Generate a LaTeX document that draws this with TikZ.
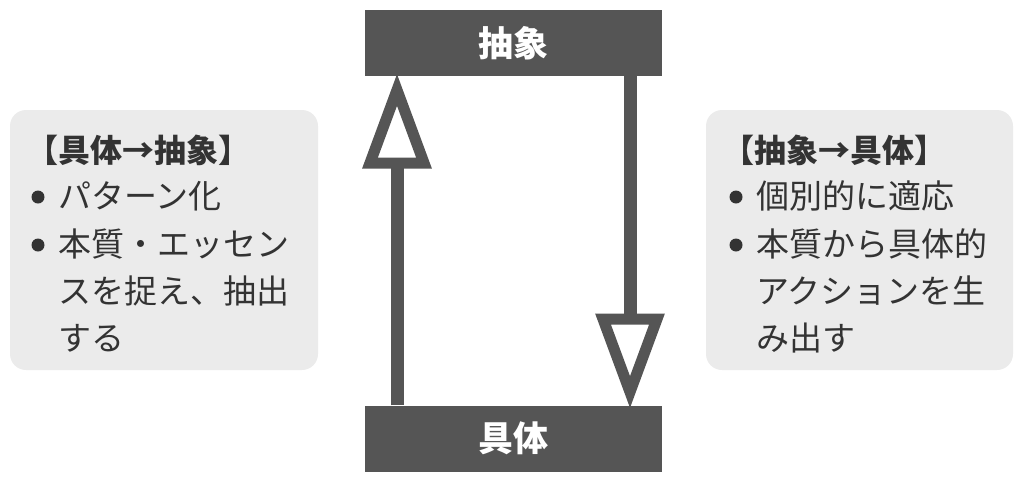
\documentclass[tikz,border=0pt]{standalone}
\usepackage{fontspec}
\newfontfamily\cjk{Noto Sans CJK JP}
\definecolor{boxgray}{HTML}{555555}
\definecolor{panelgray}{HTML}{EBEBEB}
\definecolor{textgray}{HTML}{333333}
\begin{document}
\begin{tikzpicture}[x=1pt,y=-1pt,
    level/.style={fill=boxgray, minimum width=297pt, minimum height=66pt, inner sep=0pt,
        text=white, font=\cjk\bfseries\fontsize{35}{40}\selectfont},
    panel/.style={fill=panelgray, rounded corners=16pt},
    line/.style={anchor=west, text=textgray, inner sep=0pt, font=\cjk\fontsize{33}{38}\selectfont},
    title/.style={line, font=\cjk\bfseries\fontsize{32}{38}\selectfont},
    dot/.style={fill=textgray, circle, inner sep=0pt, minimum size=13pt},
    shaft/.style={draw=boxgray, line width=13pt},
    head/.style={draw=boxgray, fill=white, line width=11pt, line join=miter}]
\useasboundingbox (0,0) rectangle (1024,485);
% levels
\node[level] (abs) at (513.5,43) {抽象};
\node[level] (con) at (513.5,438.5) {具体};
% side panels
\fill[panel] (10,110) rectangle (318,370);
\fill[panel] (706,110) rectangle (1013,370);
% arrows
\coordinate (upbase) at (397,160);
\coordinate (downbase) at (630,322);
\draw[shaft] (con.north -| upbase) -- (upbase);
\draw[shaft] (abs.south -| downbase) -- (downbase);
\draw[head] (397,90) -- (424,163) -- (370,163) -- cycle;
\draw[head] (630,392) -- (657,319) -- (603,319) -- cycle;
% left text
\node[title] (lt) at (26,150) {【具体→抽象】};
\node[dot] (ld1) at (38,197) {};
\node[line] (l1) at (58,196) {パターン化};
\node[dot] (ld2) at (38,245) {};
\node[line] (l2) at (58,244) {本質・エッセン};
\node[line] (l3) at (58,291) {スを捉え、抽出};
\node[line] (l4) at (58,338) {する};
% right text
\node[title] (rt) at (722,150) {【抽象→具体】};
\node[dot] (rd1) at (736,197) {};
\node[line] (r1) at (756,196) {個別的に適応};
\node[dot] (rd2) at (736,245) {};
\node[line] (r2) at (756,244) {本質から具体的};
\node[line] (r3) at (756,291) {アクションを生};
\node[line] (r4) at (756,338) {み出す};
\end{tikzpicture}
\end{document}
